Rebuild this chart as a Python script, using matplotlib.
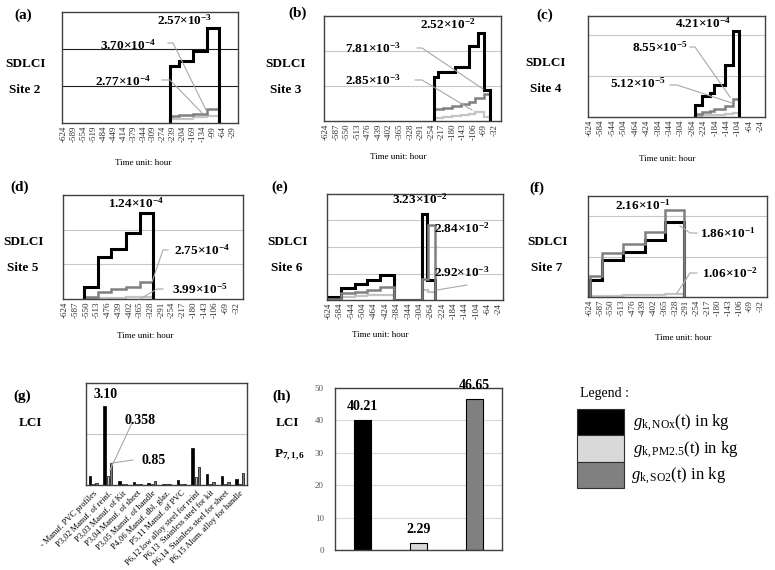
import matplotlib
matplotlib.use("Agg")
import matplotlib.pyplot as plt
from matplotlib.lines import Line2D
from matplotlib.patches import Rectangle

plt.rcParams["font.family"] = ["Liberation Serif", "DejaVu Serif"]
plt.rcParams["mathtext.fontset"] = "custom"
plt.rcParams["mathtext.rm"] = "Liberation Serif"
plt.rcParams["mathtext.it"] = "Liberation Serif:italic"
plt.rcParams["mathtext.bf"] = "Liberation Serif:bold"

W, H = 775, 570
BLACK, LIGHT, DARK = "#000000", "#c4c4c4", "#808080"

# ---- data: step series (hour edges, kg values) ----
ticks_35 = list(range(-624, -28, 35))
ticks_37 = list(range(-624, -31, 37))
ticks_40 = list(range(-624, -23, 40))

a_edges = [-248, -219, -169, -119, -78]
a_nox = [1.53e-3, 1.68e-3, 1.94e-3, 2.57e-3]
a_pm = [0.10e-3, 0.12e-3, 0.15e-3, 0.20e-3]
a_so2 = [0.18e-3, 0.21e-3, 0.25e-3, 0.37e-3]

b_nox_edges = [-246, -229, -170, -123, -91, -71, -50]
b_nox = [1.26e-2, 1.40e-2, 1.55e-2, 2.15e-2, 2.52e-2, 0.90e-2]
b_edges = [-246, -213, -180, -150, -123, -100, -71, -50]
b_pm = [0.10e-2, 0.12e-2, 0.14e-2, 0.17e-2, 0.20e-2, 0.27e-2, 0.12e-2]
b_so2 = [0.33e-2, 0.37e-2, 0.42e-2, 0.48e-2, 0.55e-2, 0.65e-2, 0.78e-2]

c_edges = [-255, -232, -202, -190, -150, -121, -100]
c_nox = [0.57e-4, 1.01e-4, 1.20e-4, 1.55e-4, 2.53e-4, 4.21e-4]
c_pm = [0.05e-4, 0.08e-4, 0.10e-4, 0.12e-4, 0.15e-4, 0.20e-4]
c_so2 = [0.15e-4, 0.25e-4, 0.30e-4, 0.38e-4, 0.55e-4, 0.86e-4]

d_edges = [-559, -509, -463, -413, -365, -319]
d_nox = [0.17e-4, 0.61e-4, 0.72e-4, 0.95e-4, 1.24e-4]
d_pm = [0.01e-4, 0.015e-4, 0.02e-4, 0.025e-4, 0.03e-4]
d_so2 = [0.03e-4, 0.10e-4, 0.14e-4, 0.18e-4, 0.25e-4]

e_nox_edges = [-630, -580, -533, -490, -443, -393, -297, -279, -250]
e_nox = [0.12e-2, 0.47e-2, 0.59e-2, 0.75e-2, 0.94e-2, 0, 3.23e-2, 0.75e-2]
e_edges = [-630, -580, -533, -490, -443, -393, -297, -273, -250]
e_pm = [0.02e-2, 0.12e-2, 0.15e-2, 0.18e-2, 0.20e-2, 0, 0.38e-2, 0.29e-2]
e_so2 = [0.05e-2, 0.25e-2, 0.31e-2, 0.38e-2, 0.50e-2, 0, 0.81e-2, 2.84e-2]

f_edges = [-624, -580, -508, -433, -363, -297]
f_nox = [0.42e-1, 0.92e-1, 1.12e-1, 1.42e-1, 1.86e-1]
f_pm = [0.02e-1, 0.03e-1, 0.04e-1, 0.05e-1, 0.08e-1]
f_so2 = [0.52e-1, 1.08e-1, 1.32e-1, 1.62e-1, 2.16e-1]

# ---- data: LCI bars ----
g_labels = ["- Manuf. PVC profiles", "P3,02 Manuf. of reinf.", "P3,03 Manuf. of Kit",
            "P3,04 Manuf. of sheet", "P3,05 Manuf. of handle", "P4,06 Manuf. dbl. glaz.",
            "P5,11 Manuf. of PVC", "P6,12 low alloy steel for reinf",
            "P6,13  Stainless steel for kit", "P6,14  Stainless steel for sheet",
            "P6,15 Alum. alloy for handle"]
g_nox = [0.37, 3.10, 0.17, 0.13, 0.07, 0.04, 0.20, 1.44, 0.42, 0.37, 0.22]
g_pm = [0.05, 0.358, 0.03, 0.02, 0.03, 0.02, 0.03, 0.30, 0.05, 0.05, 0.05]
g_so2 = [0.09, 0.85, 0.03, 0.03, 0.17, 0.03, 0.04, 0.72, 0.13, 0.13, 0.46]

h_vals = [40.21, 2.29, 46.65]
h_text = ["40.21", "2.29", "46.65"]

fig = plt.figure(figsize=(7.75, 5.7), dpi=100)


def add_box(left, top, right, bottom):
    return fig.add_axes([left / W, 1 - bottom / H, (right - left) / W, (bottom - top) / H])


def ftext(x, y, s, **kw):
    kw.setdefault("ha", "center")
    kw.setdefault("va", "center")
    fig.text(x / W, 1 - y / H, s, **kw)


def leader(points, color="#a8a8a8"):
    fig.add_artist(Line2D([p[0] / W for p in points], [1 - p[1] / H for p in points],
                          color=color, lw=0.8))


def style_box(ax):
    for s in ax.spines.values():
        s.set_color("#404040")
        s.set_linewidth(1.0)


def step_panel(box, ticks, ymax, grid, series, grid_color="#c8c8c8"):
    ax = add_box(*box)
    for edges, vals, color, lw in series:
        ax.stairs(vals, edges, baseline=0, color=color, lw=lw)
    ax.set_xlim(-630, -10)
    ax.set_ylim(0, ymax)
    ax.set_yticks(grid)
    ax.set_yticklabels([])
    ax.grid(axis="y", color=grid_color, lw=0.8)
    ax.set_axisbelow(True)
    ax.set_xticks(ticks)
    ax.set_xticklabels([str(t) for t in ticks], rotation=90, fontsize=6.5, color="#303030")
    ax.tick_params(length=0, pad=2)
    style_box(ax)
    return ax


def sci(s):
    m, e = s.split("e")
    return m + "×10$^{\\mathbf{" + e + "}}$"


step_panel((62, 12, 238, 123), ticks_35, 3e-3, [1e-3, 2e-3],
           [(a_edges, a_pm, LIGHT, 1.6), (a_edges, a_so2, DARK, 1.8), (a_edges, a_nox, BLACK, 2.2)],
           grid_color="#202020")
step_panel((324, 16, 501, 121), ticks_37, 3e-2, [1e-2, 2e-2],
           [(b_edges, b_pm, LIGHT, 1.6), (b_edges, b_so2, DARK, 1.8), (b_nox_edges, b_nox, BLACK, 2.2)])
step_panel((588, 16, 765, 117), ticks_40, 4.95e-4, [2e-4, 4e-4],
           [(c_edges, c_pm, LIGHT, 1.6), (c_edges, c_so2, DARK, 1.8), (c_edges, c_nox, BLACK, 2.2)])
step_panel((63, 195, 243, 299), ticks_37, 1.5e-4, [0.5e-4, 1e-4],
           [(d_edges, d_pm, LIGHT, 1.6), (d_edges, d_so2, DARK, 1.8), (d_edges, d_nox, BLACK, 2.2)])
step_panel((327, 194, 503, 300), ticks_40, 4e-2, [1e-2, 2e-2, 3e-2],
           [(e_edges, e_pm, LIGHT, 1.6), (e_nox_edges, e_nox, BLACK, 2.2), (e_edges, e_so2, DARK, 1.8)])
step_panel((588, 196, 767, 297), ticks_37, 2.5e-1, [1e-1, 2e-1],
           [(f_edges, f_pm, LIGHT, 1.6), (f_edges, f_nox, BLACK, 2.2), (f_edges, f_so2, DARK, 1.8)])

# panel titles and side labels
for lab, x, y in [("(a)", 23, 15), ("(b)", 298, 13), ("(c)", 545, 15),
                  ("(d)", 20, 187), ("(e)", 280, 187), ("(f)", 537, 188),
                  ("(g)", 22, 396), ("(h)", 282, 396)]:
    ftext(x, y, lab, fontsize=11, fontweight="bold")

for site, x, y in [("2", 25, 64), ("3", 286, 64), ("4", 546, 63),
                   ("5", 23, 242), ("6", 287, 242), ("7", 547, 242)]:
    ftext(x, y, "SDLCI", fontsize=9.5, fontweight="bold")
    ftext(x, y + 26, "Site " + site, fontsize=9.5, fontweight="bold")

for x, y in [(143, 163), (398, 157), (667, 159), (145, 336), (380, 335), (683, 338)]:
    ftext(x, y, "Time unit: hour", fontsize=6.5)

# value annotations
notes = [("2.57e-3", 185, 20), ("3.70e-4", 128, 45), ("2.77e-4", 123, 81),
         ("2.52e-2", 448, 24), ("7.81e-3", 373, 48), ("2.85e-3", 373, 80),
         ("4.21e-4", 703, 23), ("8.55e-5", 660, 47), ("5.12e-5", 638, 83),
         ("1.24e-4", 136, 203), ("2.75e-4", 202, 250), ("3.99e-5", 200, 289),
         ("3.23e-2", 420, 199), ("2.84e-2", 462, 228), ("2.92e-3", 462, 272),
         ("2.16e-1", 643, 205), ("1.86e-1", 728, 233), ("1.06e-2", 730, 273)]
for s, x, y in notes:
    ftext(x, y, sci(s), fontsize=9.5, fontweight="bold")

for pts in [[(168, 43), (173, 43), (206, 110)], [(162, 80), (170, 80), (202, 113)],
            [(417, 48), (422, 48), (483, 89)], [(415, 80), (422, 80), (472, 110)],
            [(690, 47), (695, 47), (730, 97)], [(670, 85), (677, 85), (732, 103)],
            [(168, 250), (163, 250), (152, 282)], [(163, 289), (157, 289), (140, 299)],
            [(467, 285), (437, 290)],
            [(697, 233), (690, 233), (680, 226)], [(697, 273), (690, 273), (677, 293)],
            [(132, 423), (110, 470)], [(133, 460), (112, 463)]]:
    leader(pts)

# (g) LCI per process
ax = add_box(86, 383, 247, 485)
xs = range(len(g_labels))
ax.bar([i - 0.22 for i in xs], g_nox, width=0.17, color=BLACK, edgecolor=BLACK, lw=0.5)
ax.bar(list(xs), g_pm, width=0.17, color=LIGHT, edgecolor=BLACK, lw=0.5)
ax.bar([i + 0.22 for i in xs], g_so2, width=0.17, color=DARK, edgecolor=BLACK, lw=0.5)
ax.set_xlim(-0.5, len(g_labels) - 0.5)
ax.set_ylim(0, 4)
ax.set_yticks([2])
ax.set_yticklabels([])
ax.grid(axis="y", color="#c8c8c8", lw=0.8)
ax.set_axisbelow(True)
ax.set_xticks(list(xs))
ax.set_xticklabels(g_labels, rotation=45, ha="right", rotation_mode="anchor", fontsize=6)
ax.tick_params(length=0, pad=3)
style_box(ax)
ftext(30, 423, "LCI", fontsize=9.5, fontweight="bold")
ftext(106, 395, "3.10", fontsize=10, fontweight="bold")
ftext(140, 420, "0.358", fontsize=10, fontweight="bold")
ftext(154, 460, "0.85", fontsize=10, fontweight="bold")

# (h) LCI P7,1,6
ax = add_box(335, 388, 502, 550)
ax.bar(range(3), h_vals, width=0.3, color=[BLACK, "#d9d9d9", DARK], edgecolor=BLACK, lw=0.8)
for i, (v, t) in enumerate(zip(h_vals, h_text)):
    ax.text(i, v + 2, t, ha="center", va="bottom", fontsize=10, fontweight="bold")
ax.set_xlim(-0.5, 2.5)
ax.set_ylim(0, 50)
ax.set_yticks(range(0, 51, 10))
ax.tick_params(axis="y", labelsize=6.5, labelcolor="#595959", length=0, pad=8)
ax.set_xticks([])
ax.grid(axis="y", color="#d9d9d9", lw=0.8)
ax.set_axisbelow(True)
style_box(ax)
ftext(287, 423, "LCI", fontsize=9.5, fontweight="bold")
ftext(290, 455, "P$_{\\mathbf{7,1,6}}$", fontsize=9.5, fontweight="bold")

# legend
ftext(580, 393, "Legend :", fontsize=10, ha="left")
leg_names = [r"$\mathit{g}_{\mathrm{k,NOx}}$(t) in kg", r"$\mathit{g}_{\mathrm{k,PM2.5}}$(t) in kg",
             r"$\mathit{g}_{\mathrm{k,SO2}}$(t) in kg"]
for i, (name, col) in enumerate(zip(leg_names, [BLACK, "#d9d9d9", DARK])):
    top = 409 + i * 26.3
    fig.add_artist(Rectangle((577 / W, 1 - (top + 26.3) / H), 47 / W, 26.3 / H,
                             facecolor=col, edgecolor="#303030", lw=0.8,
                             transform=fig.transFigure))
    ftext(633 - (2 if i == 2 else 0), top + 14, name, fontsize=12, ha="left")

fig.savefig("out.png", dpi=100)
